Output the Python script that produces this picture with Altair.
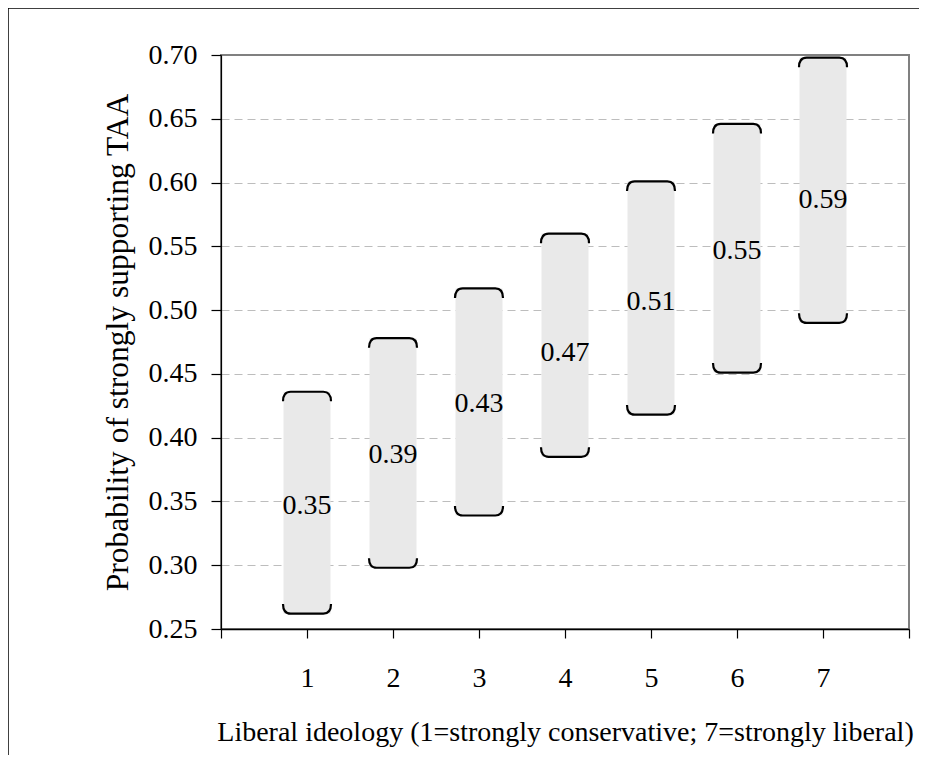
import altair as alt
import pandas as pd

categories = [1, 2, 3, 4, 5, 6, 7]
point_estimates = [0.35, 0.39, 0.43, 0.47, 0.51, 0.55, 0.59]
upper_bounds = [0.436, 0.478, 0.517, 0.560, 0.601, 0.646, 0.698]
lower_bounds = [0.262, 0.298, 0.339, 0.385, 0.418, 0.451, 0.490]
value_labels = ["0.35", "0.39", "0.43", "0.47", "0.51", "0.55", "0.59"]

y_ticks = [0.25, 0.30, 0.35, 0.40, 0.45, 0.50, 0.55, 0.60, 0.65, 0.70]
x_ticks = [0, 1, 2, 3, 4, 5, 6, 7, 8]

df = pd.DataFrame({
    "cat": categories,
    "est": point_estimates,
    "hi": upper_bounds,
    "lo": lower_bounds,
    "label": value_labels,
})

FONT = "Liberation Serif"
FS = 28

x_scale = alt.Scale(domain=[0, 8], nice=False, zero=False, padding=0)
y_scale = alt.Scale(domain=[0.25, 0.70], nice=False, zero=False, padding=0)

x_enc = alt.X(
    "cat:Q",
    scale=x_scale,
    axis=alt.Axis(
        values=x_ticks,
        format="d",
        labelExpr="(datum.value >= 1 && datum.value <= 7) ? datum.label : ''",
        title="Liberal ideology (1=strongly conservative; 7=strongly liberal)",
        grid=False,
        domainColor="black",
        domainWidth=1.5,
        tickColor="black",
        tickWidth=1.2,
        tickSize=9,
        labelPadding=26,
        titlePadding=26,
        labelFont=FONT,
        labelFontSize=FS,
        labelColor="black",
        titleFont=FONT,
        titleFontSize=FS,
        titleFontWeight="normal",
        titleColor="black",
    ),
)

bars = alt.Chart(df).mark_bar(size=47, color="#e9e9e9").encode(
    x=x_enc,
    y=alt.Y(
        "lo:Q",
        scale=y_scale,
        axis=alt.Axis(
            values=y_ticks,
            format=".2f",
            title="Probability of strongly supporting TAA",
            grid=True,
            gridColor="#bdbdbd",
            gridDash=[8, 5],
            gridWidth=1,
            gridOpacity=alt.condition("datum.value > 0.69 || datum.value < 0.26", alt.value(0), alt.value(1)),
            domainColor="black",
            domainWidth=1.2,
            tickColor="black",
            tickWidth=1.2,
            tickSize=10,
            labelPadding=14,
            titlePadding=14,
            labelFont=FONT,
            labelFontSize=FS,
            labelColor="black",
            titleFont=FONT,
            titleFontSize=31.5,
            titleFontWeight="normal",
            titleColor="black",
        ),
    ),
    y2="hi:Q",
)

top_caps = alt.Chart(df).mark_point(
    shape="M -1 0.4 Q -1 0 -0.68 0 L 0.68 0 Q 1 0 1 0.4",
    filled=False,
    stroke="black",
    strokeWidth=2.2,
    size=2304,
    opacity=1,
).encode(x=alt.X("cat:Q", scale=x_scale), y=alt.Y("hi:Q", scale=y_scale))

bottom_caps = alt.Chart(df).mark_point(
    shape="M -1 -0.4 Q -1 0 -0.68 0 L 0.68 0 Q 1 0 1 -0.4",
    filled=False,
    stroke="black",
    strokeWidth=2.2,
    size=2304,
    opacity=1,
).encode(x=alt.X("cat:Q", scale=x_scale), y=alt.Y("lo:Q", scale=y_scale))

texts = alt.Chart(df).mark_text(
    font=FONT, fontSize=FS, color="black", baseline="middle", align="center", dy=5
).encode(x=alt.X("cat:Q", scale=x_scale), y=alt.Y("est:Q", scale=y_scale), text="label:N")

one = pd.DataFrame({"a": [0]})
frame_left = alt.Chart(one).mark_rule(color="black", strokeWidth=1.5).encode(
    x=alt.value(-213), y=alt.value(-47), y2=alt.value(710)
)
frame_top = alt.Chart(one).mark_rule(color="black", strokeWidth=1.5).encode(
    x=alt.value(-213), x2=alt.value(698), y=alt.value(-47)
)

chart = alt.layer(bars, top_caps, bottom_caps, texts, frame_left, frame_top).properties(
    width=688,
    height=574,
    autosize=alt.AutoSizeParams(type="none"),
    padding={"left": 213, "top": 47, "right": 11, "bottom": 126},
).configure_view(
    stroke="#808080", strokeWidth=2
)

chart.save("out.html", embed_options={"renderer": "svg", "actions": False})
